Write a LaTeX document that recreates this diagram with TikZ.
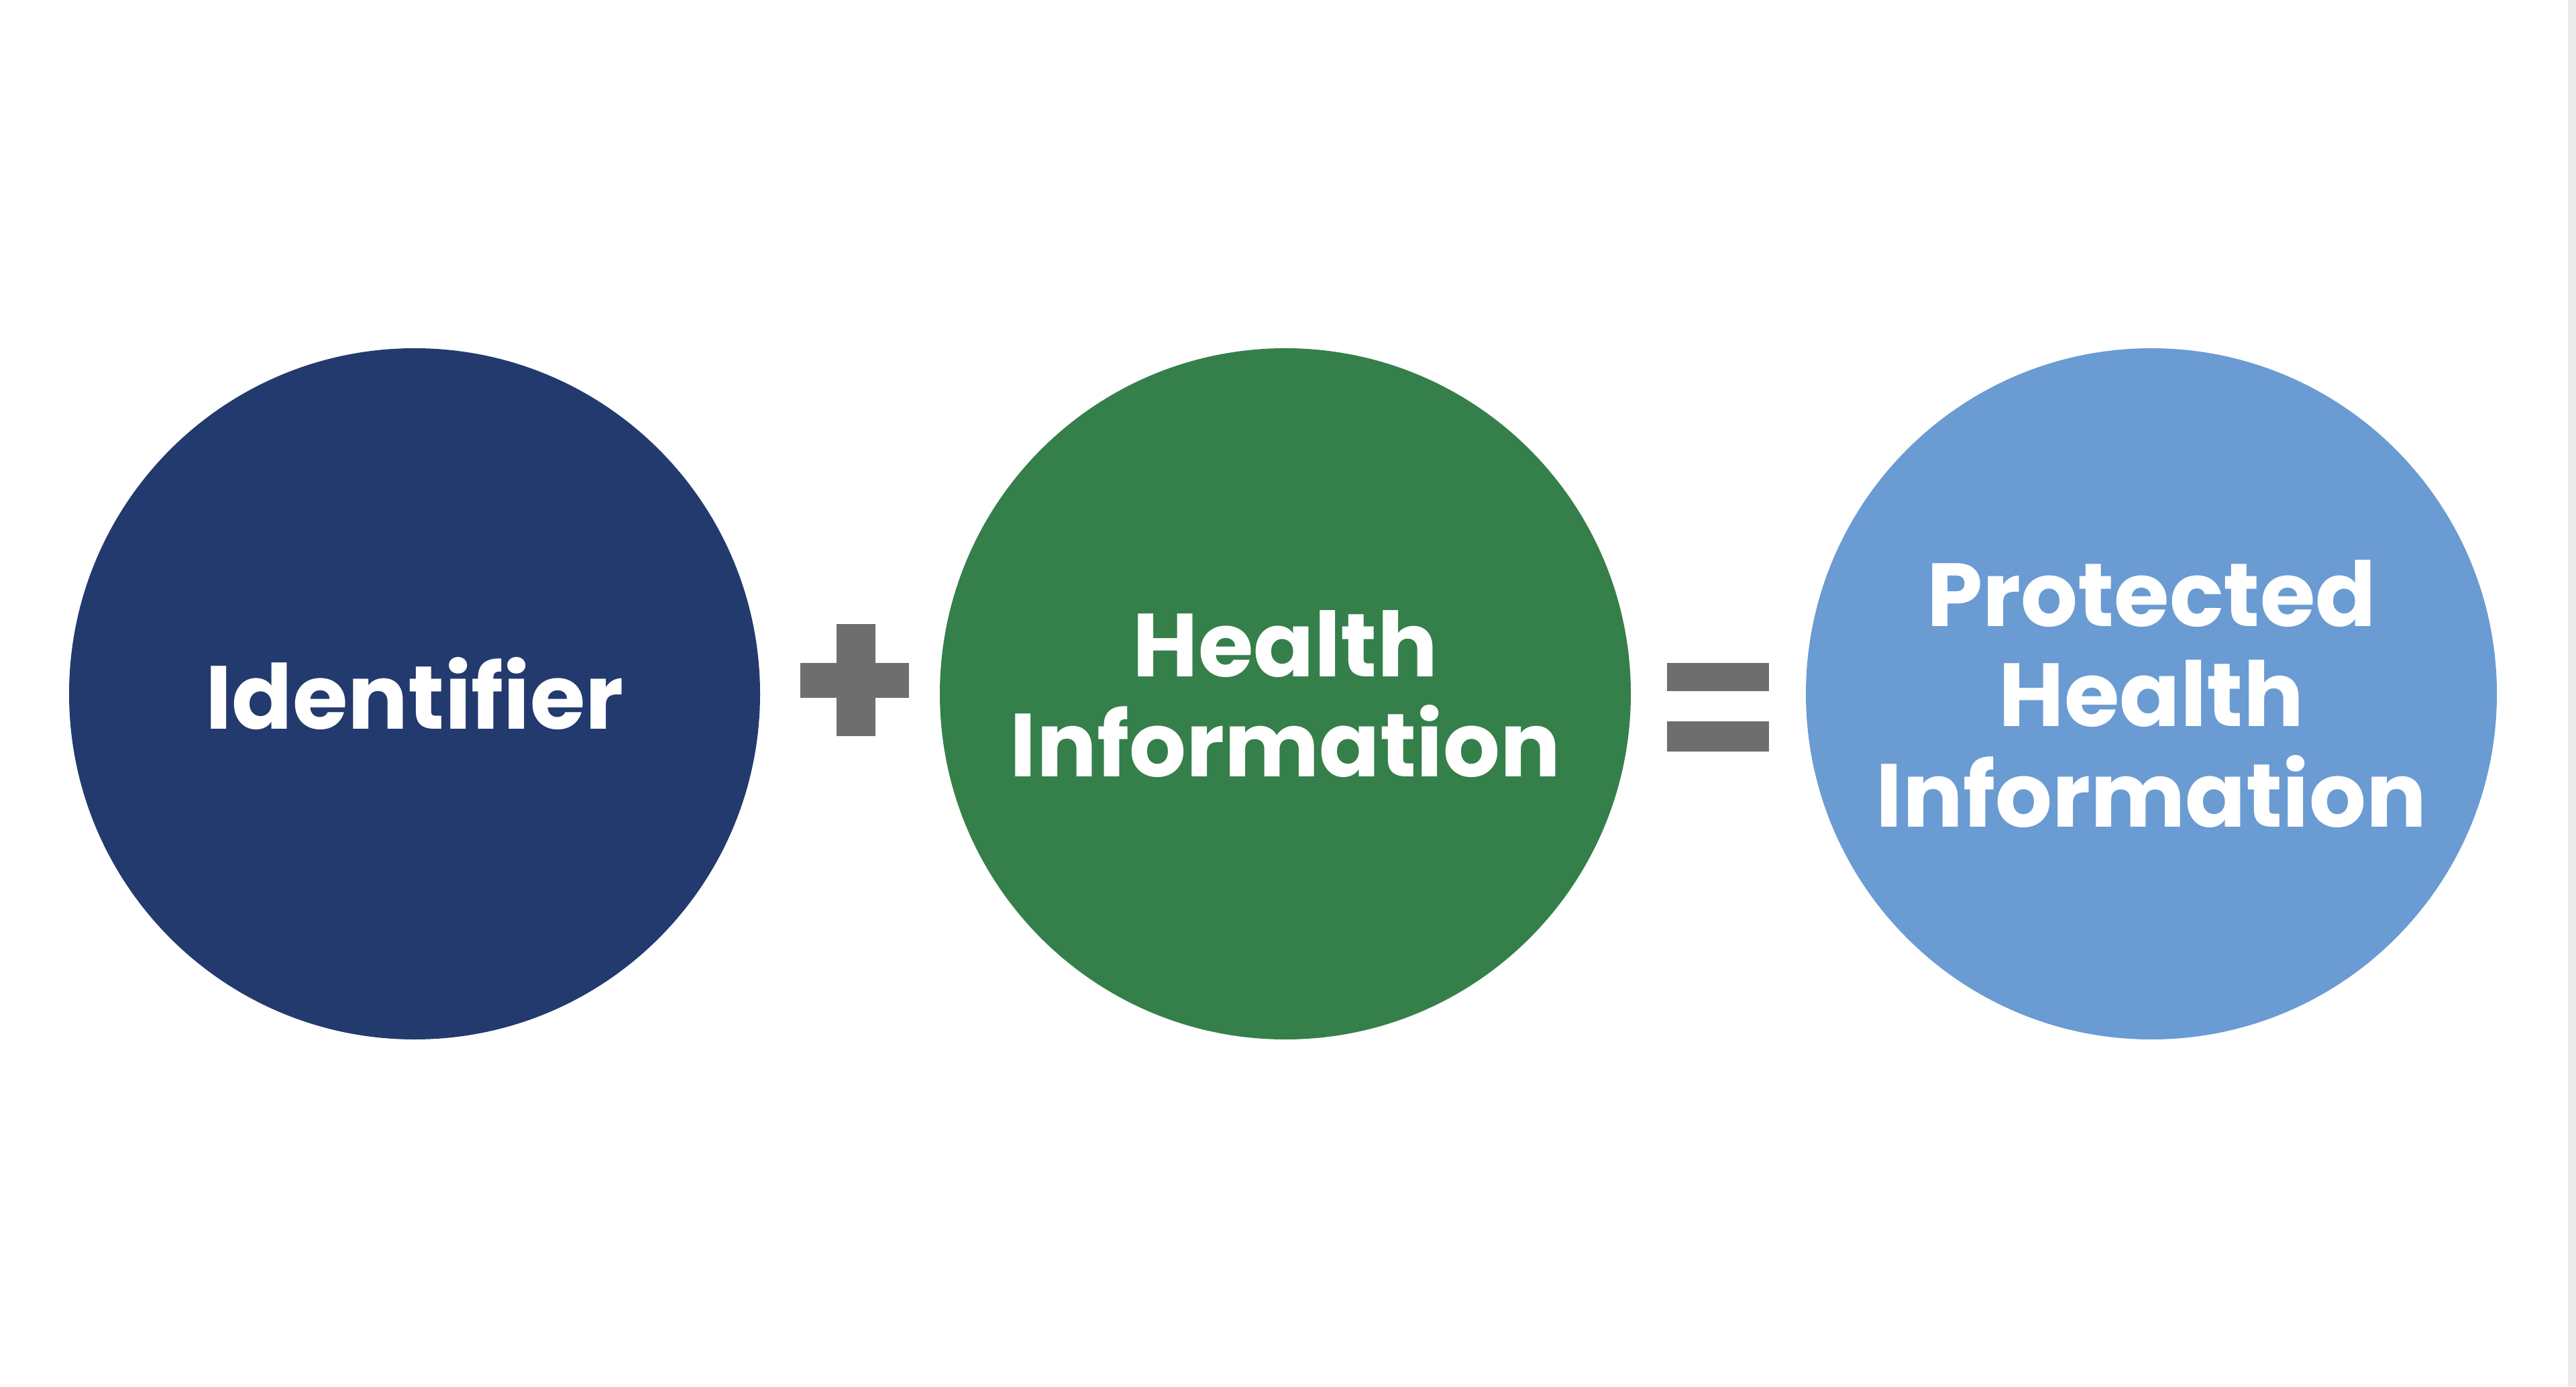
\documentclass[tikz,border=0pt]{standalone}
\usepackage{fontspec}
\setmainfont{Poppins}
\usepackage{tikz}
\usetikzlibrary{positioning}
\definecolor{idfill}{HTML}{233A6E}
\definecolor{hifill}{HTML}{357F4A}
\definecolor{phifill}{HTML}{6A9BD2}
\definecolor{opgray}{HTML}{6E6E6E}
\definecolor{edgegray}{HTML}{EBEBEB}

\begin{document}
\begin{tikzpicture}[every node/.style={font=\fontsize{38}{42.5}\selectfont\bfseries},
                    bubble/.style={circle, minimum size=10.3cm, inner sep=0pt, text=white, align=center}]
                \useasboundingbox (0,0) rectangle (38.40,20.66);
                \fill[white] (0,0) rectangle (38.40,20.66);
                \fill[edgegray] (38.28,0) rectangle (38.40,20.66);
                \node[bubble, fill=idfill] (ident) at (6.18,10.32) {Identifier};
                \node[bubble, fill=hifill] (health) at (19.16,10.32) {Health\\Information};
                \node[bubble, fill=phifill] (phi) at (32.07,10.32) {Protected\\Health\\Information};
                % plus sign
                \fill[opgray] (11.93,10.26) rectangle (13.55,10.78);
                \fill[opgray] (12.47,9.69) rectangle (13.05,11.36);
                % equals sign
                \fill[opgray] (24.85,10.36) rectangle (26.37,10.78);
                \fill[opgray] (24.85,9.46) rectangle (26.37,9.91);
            \end{tikzpicture}
\end{document}
